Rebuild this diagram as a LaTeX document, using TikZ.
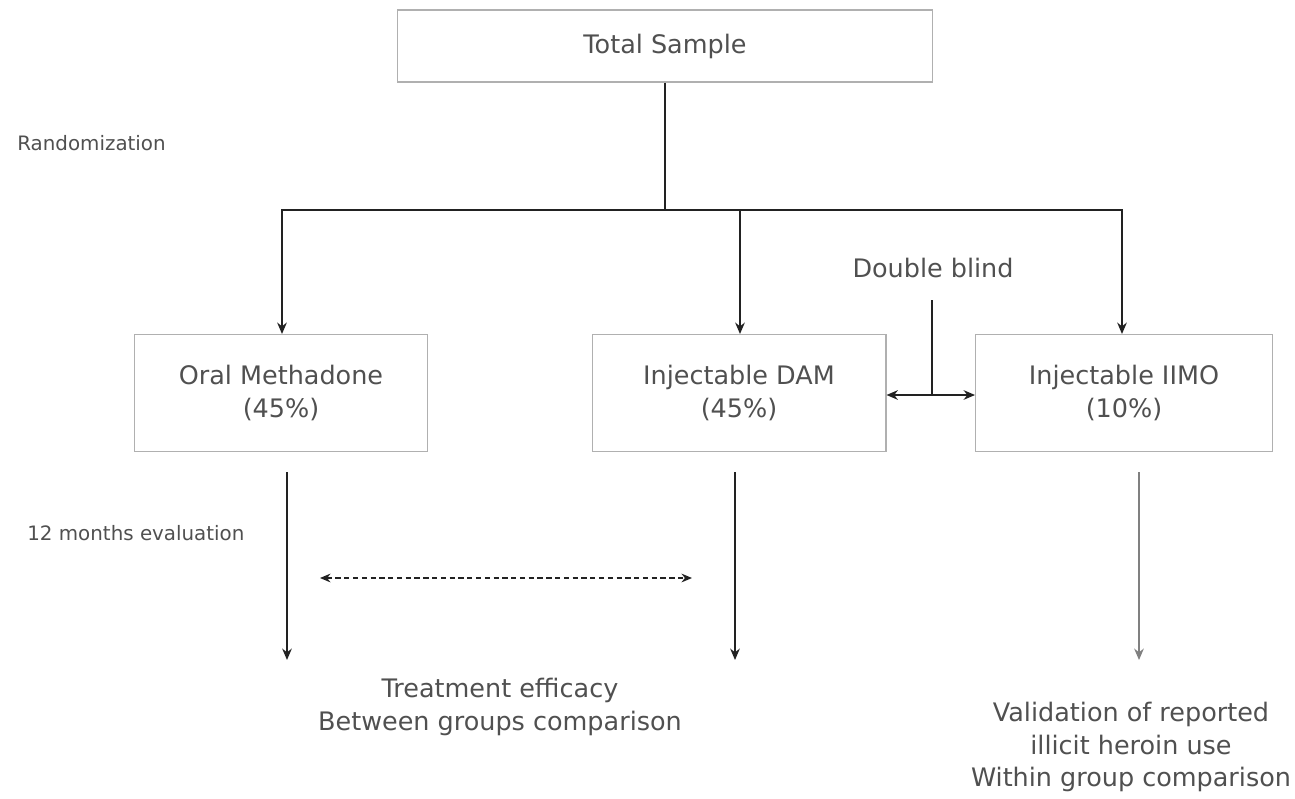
\documentclass[tikz,border=0pt]{standalone}
\usepackage{fontspec}
\setmainfont{DejaVu Sans}
\usetikzlibrary{arrows.meta}
\definecolor{txtgray}{HTML}{505050}
\definecolor{boxgray}{HTML}{B0B0B0}
\definecolor{linegray}{HTML}{222222}
\tikzset{
    box/.style={draw=boxgray, line width=0.6pt, text=txtgray, align=center,
                font=\fontsize{14.5}{18.7}\selectfont},
    label/.style={text=txtgray, font=\fontsize{11.3}{13}\selectfont, anchor=west, inner sep=0pt},
    outcome/.style={text=txtgray, align=center, font=\fontsize{14.5}{18.7}\selectfont},
    conn/.style={draw=linegray, line width=0.9pt},
    arr/.style={conn, -{Stealth[length=6.5pt,width=5.5pt]}},
}
\begin{document}
\begin{tikzpicture}[x=0.02cm, y=-0.02cm]
                \useasboundingbox (0,0) rectangle (1295,798);

                \node[box, minimum width=10.72cm, minimum height=1.44cm] (total) at (665,46) {Total Sample};
                \node[label] (rand) at (17,143) {Randomization};

                \node[box, minimum width=5.86cm, minimum height=2.34cm] (oral) at (281,393) {Oral Methadone\\(45\%)};
                \node[box, minimum width=5.88cm, minimum height=2.34cm] (dam) at (739,393) {Injectable DAM\\(45\%)};
                \node[box, minimum width=5.94cm, minimum height=2.34cm] (iimo) at (1124,393) {Injectable IIMO\\(10\%)};

                \node[outcome] (blind) at (933,268) {Double blind};
                \node[label] (eval) at (27,533) {12 months evaluation};

                \node[outcome] (efficacy) at (500,707) {Treatment efficacy\\Between groups comparison};
                \node[outcome] (validation) at (1131,747) {Validation of reported\\illicit heroin use\\Within group comparison};

                \coordinate (split) at (665,210);
                \coordinate (bj) at (932,395);
                \coordinate (oralend) at (287,660);
                \coordinate (damend) at (735,660);
                \coordinate (iimoend) at (1139,660);
                \coordinate (cmpL) at (320,578);
                \coordinate (cmpR) at (692,578);

                \draw[conn] (total.south) -- (split);
                \draw[arr] (split) -| ([xshift=0.02cm]oral.north);
                \draw[arr] (split) -| ([xshift=0.02cm]dam.north);
                \draw[arr] (split) -| ([xshift=-0.04cm]iimo.north);

                \draw[conn] ([yshift=-0.32cm]blind.south -| bj) -- (bj);
                \draw[conn, {Stealth[length=6.5pt,width=5.5pt]}-{Stealth[length=6.5pt,width=5.5pt]}] (dam.east |- bj) -- (iimo.west |- bj);

                \draw[arr] ([yshift=-0.4cm]oral.south -| oralend) -- (oralend);
                \draw[arr] ([yshift=-0.4cm]dam.south -| damend) -- (damend);
                \draw[arr, draw=gray] ([yshift=-0.4cm]iimo.south -| iimoend) -- (iimoend);
                \draw[conn, line width=0.7pt, dash pattern=on 3pt off 2pt,
                      {Stealth[length=6pt,width=5pt]}-{Stealth[length=6pt,width=5pt]}] (cmpL) -- (cmpR);
            \end{tikzpicture}
\end{document}
